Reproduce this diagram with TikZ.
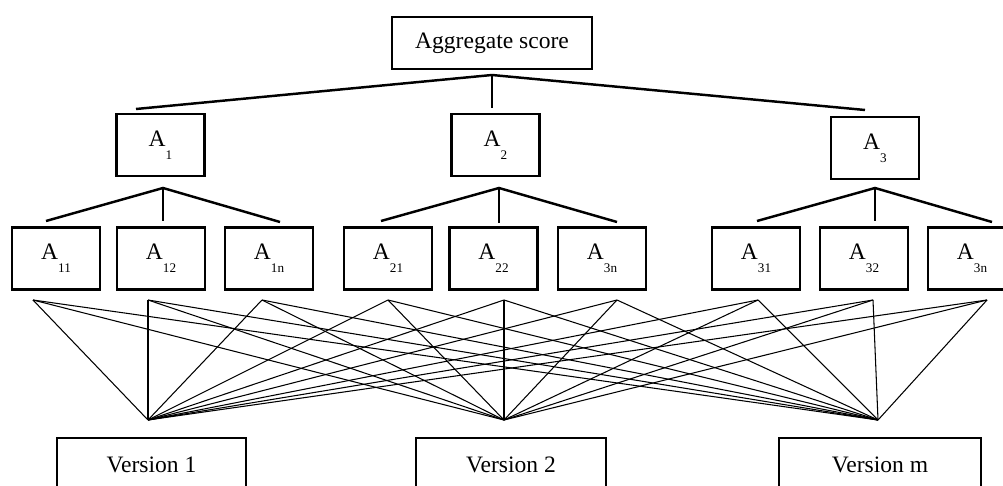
\documentclass[tikz,border=0pt]{standalone}
\usepackage{fontspec}
\setmainfont{Liberation Serif}
\usepackage{tikz}
\usetikzlibrary{positioning}

\newcommand{\Asub}[1]{A\raisebox{-0.26cm}{\fontsize{7.5}{8}\selectfont #1}}

\begin{document}
\begin{tikzpicture}[
    x=0.02cm, y=-0.02cm,
    font=\fontsize{13.4}{15}\selectfont,
    crit/.style={
		rectangle,
		draw=black,
		line width=1.4pt,
		text centered,
		inner sep=0pt,
		minimum width=1.76cm,
		minimum height=1.24cm
	},
	topbox/.style={
		crit,
		minimum width=4cm,
		minimum height=1.04cm
	},
	verbox/.style={
		crit,
		minimum height=1.08cm
	},
	branch/.style={
		line width=1.4pt
	},
	web/.style={
		line width=0.6pt
	}
  ]
  \useasboundingbox (0,0) rectangle (1003,486);
  \clip (0,0) rectangle (1003,486);

    % We start by placing the blocks
  \node [topbox] (agg) at (492,43) {Aggregate score};

  \node [crit] (a1) at (160.5,145) {\Asub{1}};
  \node [crit] (a2) at (495.5,145) {\Asub{2}};
  \node [crit] (a3) at (875,148) {\Asub{3}};

  \node [crit] (a11) at (56,258.5) {\Asub{11}};
  \node [crit] (a12) at (161,258.5) {\Asub{12}};
  \node [crit] (a1n) at (269,258.5) {\Asub{1n}};
  \node [crit] (a21) at (388,258.5) {\Asub{21}};
  \node [crit] (a22) at (493.5,258.5) {\Asub{22}};
  \node [crit] (a2n) at (602,258.5) {\Asub{3n}};
  \node [crit] (a31) at (756,258.5) {\Asub{31}};
  \node [crit] (a32) at (864,258.5) {\Asub{32}};
  \node [crit] (a3n) at (972,258.5) {\Asub{3n}};

  \node [verbox, minimum width=3.78cm] (ver1) at (151.5,465) {Version 1};
  \node [verbox, minimum width=3.8cm] (ver2) at (511,465) {Version 2};
  \node [verbox, minimum width=4.04cm] (verm) at (880,465) {Version m};

  % joints of the tree
  \coordinate (j0) at (492,75);
  \coordinate (e1) at (136,109);
  \coordinate (e2) at (492,108);
  \coordinate (e3) at (865,110);
  \draw [branch] (e1) -- (j0) -- (e3);
  \draw [branch] (j0) -- (e2);

  \coordinate (j1) at (163,188);
  \coordinate (j2) at (499,188);
  \coordinate (j3) at (875,188);
  \draw [branch] (46,221) -- (j1) -- (280,222);
  \draw [branch] (j1) -- (163,221);
  \draw [branch] (381,221) -- (j2) -- (617,222);
  \draw [branch] (j2) -- (499,223);
  \draw [branch] (757,221) -- (j3) -- (992,222);
  \draw [branch] (j3) -- (875,221);

  % criteria to versions
  \foreach \i/\x in {1/33,2/148,3/262,4/388,5/504,6/617,7/758,8/873,9/987}
    \coordinate (t\i) at (\x,300);
  \coordinate (b1) at (148,420);
  \coordinate (b2) at (504,420);
  \coordinate (b3) at (878,420);
  \foreach \i in {1,...,9}
    \foreach \j in {1,2,3}
      \draw [web] (t\i) -- (b\j);

\end{tikzpicture}
\end{document}
